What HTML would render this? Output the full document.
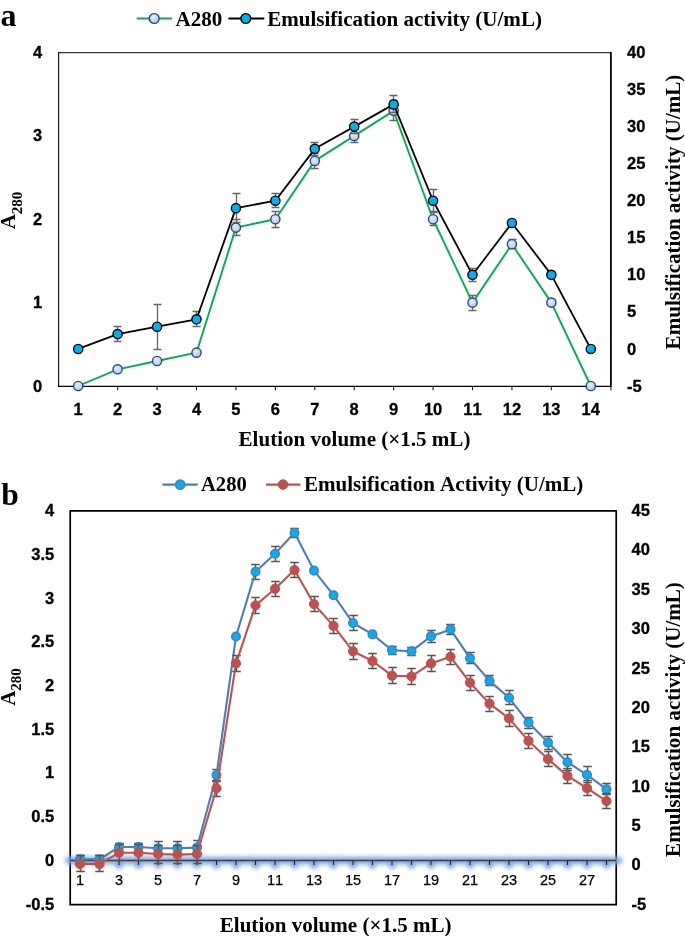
<!DOCTYPE html>
<html><head><meta charset="utf-8"><title>Elution profiles</title>
<style>html,body{margin:0;padding:0;background:#fff;width:685px;height:936px;overflow:hidden}svg{display:block;will-change:transform}text{font-variant-ligatures:none;font-kerning:none}</style>
</head><body>
<svg width="685" height="936" viewBox="0 0 685 936">
<defs>
<radialGradient id="gA" cx="0.4" cy="0.35" r="0.7"><stop offset="0" stop-color="#e4ecf7"/><stop offset="1" stop-color="#b4c8e4"/></radialGradient>
<filter id="glow" x="-0.05" y="-3" width="1.1" height="7" filterUnits="objectBoundingBox"><feGaussianBlur stdDeviation="2"/></filter>
</defs>
<rect width="685" height="936" fill="#fff"/>
<text x="0.5" y="26" style="font-family:'Liberation Serif', serif;font-weight:bold;font-size:32px">a</text>
<text x="1.2" y="504.5" style="font-family:'Liberation Serif', serif;font-weight:bold;font-size:31.5px">b</text>
<path d="M58.6 52.5H610.9" stroke="#333" stroke-width="1.25"/>
<path d="M58.6 51.9V387" stroke="#111" stroke-width="1.15"/>
<path d="M58 386.4H611" stroke="#000" stroke-width="1.25"/>
<path d="M610.9 51.9V387" stroke="#000" stroke-width="1.75"/>
<path d="M78.21 386.4v3.8M117.64 386.4v3.8M157.07 386.4v3.8M196.5 386.4v3.8M235.93 386.4v3.8M275.36 386.4v3.8M314.79 386.4v3.8M354.21 386.4v3.8M393.64 386.4v3.8M433.07 386.4v3.8M472.5 386.4v3.8M511.93 386.4v3.8M551.36 386.4v3.8M590.79 386.4v3.8M610.9 386.4v4.2" stroke="#1a1a1a" stroke-width="1.1"/>
<text x="42.3" y="391.6" text-anchor="end" style="font-family:'Liberation Sans', sans-serif;font-weight:bold;font-size:16.5px;stroke:#000;stroke-width:0.3px">0</text>
<text x="42.3" y="308.23" text-anchor="end" style="font-family:'Liberation Sans', sans-serif;font-weight:bold;font-size:16.5px;stroke:#000;stroke-width:0.3px">1</text>
<text x="42.3" y="224.85" text-anchor="end" style="font-family:'Liberation Sans', sans-serif;font-weight:bold;font-size:16.5px;stroke:#000;stroke-width:0.3px">2</text>
<text x="42.3" y="141.47" text-anchor="end" style="font-family:'Liberation Sans', sans-serif;font-weight:bold;font-size:16.5px;stroke:#000;stroke-width:0.3px">3</text>
<text x="42.3" y="58.1" text-anchor="end" style="font-family:'Liberation Sans', sans-serif;font-weight:bold;font-size:16.5px;stroke:#000;stroke-width:0.3px">4</text>
<text x="627" y="391.6" style="font-family:'Liberation Sans', sans-serif;font-weight:bold;font-size:16.5px;stroke:#000;stroke-width:0.3px">-5</text>
<text x="627" y="354.54" style="font-family:'Liberation Sans', sans-serif;font-weight:bold;font-size:16.5px;stroke:#000;stroke-width:0.3px">0</text>
<text x="627" y="317.49" style="font-family:'Liberation Sans', sans-serif;font-weight:bold;font-size:16.5px;stroke:#000;stroke-width:0.3px">5</text>
<text x="627" y="280.43" style="font-family:'Liberation Sans', sans-serif;font-weight:bold;font-size:16.5px;stroke:#000;stroke-width:0.3px">10</text>
<text x="627" y="243.38" style="font-family:'Liberation Sans', sans-serif;font-weight:bold;font-size:16.5px;stroke:#000;stroke-width:0.3px">15</text>
<text x="627" y="206.32" style="font-family:'Liberation Sans', sans-serif;font-weight:bold;font-size:16.5px;stroke:#000;stroke-width:0.3px">20</text>
<text x="627" y="169.27" style="font-family:'Liberation Sans', sans-serif;font-weight:bold;font-size:16.5px;stroke:#000;stroke-width:0.3px">25</text>
<text x="627" y="132.21" style="font-family:'Liberation Sans', sans-serif;font-weight:bold;font-size:16.5px;stroke:#000;stroke-width:0.3px">30</text>
<text x="627" y="95.16" style="font-family:'Liberation Sans', sans-serif;font-weight:bold;font-size:16.5px;stroke:#000;stroke-width:0.3px">35</text>
<text x="627" y="58.1" style="font-family:'Liberation Sans', sans-serif;font-weight:bold;font-size:16.5px;stroke:#000;stroke-width:0.3px">40</text>
<text x="78.21" y="414.9" text-anchor="middle" style="font-family:'Liberation Sans', sans-serif;font-weight:bold;font-size:16.5px;stroke:#000;stroke-width:0.3px">1</text>
<text x="117.64" y="414.9" text-anchor="middle" style="font-family:'Liberation Sans', sans-serif;font-weight:bold;font-size:16.5px;stroke:#000;stroke-width:0.3px">2</text>
<text x="157.07" y="414.9" text-anchor="middle" style="font-family:'Liberation Sans', sans-serif;font-weight:bold;font-size:16.5px;stroke:#000;stroke-width:0.3px">3</text>
<text x="196.5" y="414.9" text-anchor="middle" style="font-family:'Liberation Sans', sans-serif;font-weight:bold;font-size:16.5px;stroke:#000;stroke-width:0.3px">4</text>
<text x="235.93" y="414.9" text-anchor="middle" style="font-family:'Liberation Sans', sans-serif;font-weight:bold;font-size:16.5px;stroke:#000;stroke-width:0.3px">5</text>
<text x="275.36" y="414.9" text-anchor="middle" style="font-family:'Liberation Sans', sans-serif;font-weight:bold;font-size:16.5px;stroke:#000;stroke-width:0.3px">6</text>
<text x="314.79" y="414.9" text-anchor="middle" style="font-family:'Liberation Sans', sans-serif;font-weight:bold;font-size:16.5px;stroke:#000;stroke-width:0.3px">7</text>
<text x="354.21" y="414.9" text-anchor="middle" style="font-family:'Liberation Sans', sans-serif;font-weight:bold;font-size:16.5px;stroke:#000;stroke-width:0.3px">8</text>
<text x="393.64" y="414.9" text-anchor="middle" style="font-family:'Liberation Sans', sans-serif;font-weight:bold;font-size:16.5px;stroke:#000;stroke-width:0.3px">9</text>
<text x="433.07" y="414.9" text-anchor="middle" style="font-family:'Liberation Sans', sans-serif;font-weight:bold;font-size:16.5px;stroke:#000;stroke-width:0.3px">10</text>
<text x="472.5" y="414.9" text-anchor="middle" style="font-family:'Liberation Sans', sans-serif;font-weight:bold;font-size:16.5px;stroke:#000;stroke-width:0.3px">11</text>
<text x="511.93" y="414.9" text-anchor="middle" style="font-family:'Liberation Sans', sans-serif;font-weight:bold;font-size:16.5px;stroke:#000;stroke-width:0.3px">12</text>
<text x="551.36" y="414.9" text-anchor="middle" style="font-family:'Liberation Sans', sans-serif;font-weight:bold;font-size:16.5px;stroke:#000;stroke-width:0.3px">13</text>
<text x="590.79" y="414.9" text-anchor="middle" style="font-family:'Liberation Sans', sans-serif;font-weight:bold;font-size:16.5px;stroke:#000;stroke-width:0.3px">14</text>
<text x="354.5" y="446" text-anchor="middle" style="font-family:'Liberation Serif', serif;font-weight:bold;font-size:21.05px">Elution volume (×1.5 mL)</text>
<text transform="translate(15,210.5) rotate(-90)" text-anchor="middle" style="font-family:'Liberation Serif', serif;font-weight:bold;font-size:21.05px">A<tspan style="font-size:15px" dy="6.6">280</tspan></text>
<text transform="translate(680.3,212) rotate(-90)" text-anchor="middle" style="font-family:'Liberation Serif', serif;font-weight:bold;font-size:21.05px">Emulsification activity (U/mL)</text>
<line x1="136.7" y1="18.5" x2="172" y2="18.5" stroke="#00b050" stroke-width="2.2"/>
<circle cx="154.2" cy="18.5" r="4.9" fill="url(#gA)" stroke="#24497f" stroke-width="1.4"/>
<text x="175.5" y="26.2" style="font-family:'Liberation Serif', serif;font-weight:bold;font-size:21.05px">A280</text>
<line x1="228.4" y1="18.5" x2="264.3" y2="18.5" stroke="#000" stroke-width="2.2"/>
<circle cx="245.8" cy="18.5" r="4.9" fill="#00b0f0" stroke="#000" stroke-width="1.4"/>
<text x="267.2" y="26.2" style="font-family:'Liberation Serif', serif;font-weight:bold;font-size:21.05px">Emulsification activity (U/mL)</text>
<path d="M236.5 219.5V235.5M232.5 219.5h8M232.5 235.5h8" stroke="#666666" stroke-width="1.35" fill="none"/>
<path d="M275.5 211.5V227.5M271.5 211.5h8M271.5 227.5h8" stroke="#666666" stroke-width="1.35" fill="none"/>
<path d="M314.5 153.5V168.5M310.5 153.5h8M310.5 168.5h8" stroke="#666666" stroke-width="1.35" fill="none"/>
<path d="M354.5 129.5V142.5M350.5 129.5h8M350.5 142.5h8" stroke="#666666" stroke-width="1.35" fill="none"/>
<path d="M393.5 100.5V120.5M389.5 100.5h8M389.5 120.5h8" stroke="#666666" stroke-width="1.35" fill="none"/>
<path d="M433.5 212.5V225.5M429.5 212.5h8M429.5 225.5h8" stroke="#666666" stroke-width="1.35" fill="none"/>
<path d="M472.5 295.5V310.5M468.5 295.5h8M468.5 310.5h8" stroke="#666666" stroke-width="1.35" fill="none"/>
<path d="M512.5 239.5V248.5M508.5 239.5h8M508.5 248.5h8" stroke="#666666" stroke-width="1.35" fill="none"/>
<polyline points="78.21,386 117.64,369.32 157.07,360.99 196.5,352.65 235.93,227.59 275.36,219.25 314.79,160.89 354.21,135.88 393.64,110.86 433.07,219.25 472.5,302.62 511.93,244.26 551.36,302.62 590.79,386" fill="none" stroke="#00b050" stroke-width="1.9" stroke-linejoin="round"/>
<circle cx="78.21" cy="386" r="4.6" fill="url(#gA)" stroke="#24497f" stroke-width="1.4"/>
<circle cx="117.64" cy="369.32" r="4.6" fill="url(#gA)" stroke="#24497f" stroke-width="1.4"/>
<circle cx="157.07" cy="360.99" r="4.6" fill="url(#gA)" stroke="#24497f" stroke-width="1.4"/>
<circle cx="196.5" cy="352.65" r="4.6" fill="url(#gA)" stroke="#24497f" stroke-width="1.4"/>
<circle cx="235.93" cy="227.59" r="4.6" fill="url(#gA)" stroke="#24497f" stroke-width="1.4"/>
<circle cx="275.36" cy="219.25" r="4.6" fill="url(#gA)" stroke="#24497f" stroke-width="1.4"/>
<circle cx="314.79" cy="160.89" r="4.6" fill="url(#gA)" stroke="#24497f" stroke-width="1.4"/>
<circle cx="354.21" cy="135.88" r="4.6" fill="url(#gA)" stroke="#24497f" stroke-width="1.4"/>
<circle cx="393.64" cy="110.86" r="4.6" fill="url(#gA)" stroke="#24497f" stroke-width="1.4"/>
<circle cx="433.07" cy="219.25" r="4.6" fill="url(#gA)" stroke="#24497f" stroke-width="1.4"/>
<circle cx="472.5" cy="302.62" r="4.6" fill="url(#gA)" stroke="#24497f" stroke-width="1.4"/>
<circle cx="511.93" cy="244.26" r="4.6" fill="url(#gA)" stroke="#24497f" stroke-width="1.4"/>
<circle cx="551.36" cy="302.62" r="4.6" fill="url(#gA)" stroke="#24497f" stroke-width="1.4"/>
<circle cx="590.79" cy="386" r="4.6" fill="url(#gA)" stroke="#24497f" stroke-width="1.4"/>
<path d="M117.5 326.5V341.5M113.5 326.5h8M113.5 341.5h8" stroke="#666666" stroke-width="1.35" fill="none"/>
<path d="M157.5 304.5V349.5M153.5 304.5h8M153.5 349.5h8" stroke="#666666" stroke-width="1.35" fill="none"/>
<path d="M196.5 311.5V326.5M192.5 311.5h8M192.5 326.5h8" stroke="#666666" stroke-width="1.35" fill="none"/>
<path d="M236.5 193.5V222.5M232.5 193.5h8M232.5 222.5h8" stroke="#666666" stroke-width="1.35" fill="none"/>
<path d="M275.5 193.5V207.5M271.5 193.5h8M271.5 207.5h8" stroke="#666666" stroke-width="1.35" fill="none"/>
<path d="M314.5 142.5V155.5M310.5 142.5h8M310.5 155.5h8" stroke="#666666" stroke-width="1.35" fill="none"/>
<path d="M354.5 119.5V133.5M350.5 119.5h8M350.5 133.5h8" stroke="#666666" stroke-width="1.35" fill="none"/>
<path d="M393.5 95.5V112.5M389.5 95.5h8M389.5 112.5h8" stroke="#666666" stroke-width="1.35" fill="none"/>
<path d="M433.5 189.5V211.5M429.5 189.5h8M429.5 211.5h8" stroke="#666666" stroke-width="1.35" fill="none"/>
<path d="M472.5 268.5V281.5M468.5 268.5h8M468.5 281.5h8" stroke="#666666" stroke-width="1.35" fill="none"/>
<polyline points="78.21,348.94 117.64,334.12 157.07,326.71 196.5,319.3 235.93,208.13 275.36,200.72 314.79,148.84 354.21,126.61 393.64,104.38 433.07,200.72 472.5,274.83 511.93,222.96 551.36,274.83 590.79,348.94" fill="none" stroke="#000" stroke-width="1.8" stroke-linejoin="round"/>
<circle cx="78.21" cy="348.94" r="4.6" fill="#00b0f0" stroke="#000" stroke-width="1.4"/>
<circle cx="117.64" cy="334.12" r="4.6" fill="#00b0f0" stroke="#000" stroke-width="1.4"/>
<circle cx="157.07" cy="326.71" r="4.6" fill="#00b0f0" stroke="#000" stroke-width="1.4"/>
<circle cx="196.5" cy="319.3" r="4.6" fill="#00b0f0" stroke="#000" stroke-width="1.4"/>
<circle cx="235.93" cy="208.13" r="4.6" fill="#00b0f0" stroke="#000" stroke-width="1.4"/>
<circle cx="275.36" cy="200.72" r="4.6" fill="#00b0f0" stroke="#000" stroke-width="1.4"/>
<circle cx="314.79" cy="148.84" r="4.6" fill="#00b0f0" stroke="#000" stroke-width="1.4"/>
<circle cx="354.21" cy="126.61" r="4.6" fill="#00b0f0" stroke="#000" stroke-width="1.4"/>
<circle cx="393.64" cy="104.38" r="4.6" fill="#00b0f0" stroke="#000" stroke-width="1.4"/>
<circle cx="433.07" cy="200.72" r="4.6" fill="#00b0f0" stroke="#000" stroke-width="1.4"/>
<circle cx="472.5" cy="274.83" r="4.6" fill="#00b0f0" stroke="#000" stroke-width="1.4"/>
<circle cx="511.93" cy="222.96" r="4.6" fill="#00b0f0" stroke="#000" stroke-width="1.4"/>
<circle cx="551.36" cy="274.83" r="4.6" fill="#00b0f0" stroke="#000" stroke-width="1.4"/>
<circle cx="590.79" cy="348.94" r="4.6" fill="#00b0f0" stroke="#000" stroke-width="1.4"/>
<path d="M70.2 510.9H616.2V904.6H70.2Z" fill="none" stroke="#000" stroke-width="1.7"/>
<path d="M69 860.5H618.5M80 860.5v4.5M99.5 860.5v4.5M119 860.5v4.5M138.5 860.5v4.5M158 860.5v4.5M177.5 860.5v4.5M197 860.5v4.5M216.5 860.5v4.5M236 860.5v4.5M255.5 860.5v4.5M275 860.5v4.5M294.5 860.5v4.5M314 860.5v4.5M333.5 860.5v4.5M353 860.5v4.5M372.5 860.5v4.5M392 860.5v4.5M411.5 860.5v4.5M431 860.5v4.5M450.5 860.5v4.5M470 860.5v4.5M489.5 860.5v4.5M509 860.5v4.5M528.5 860.5v4.5M548 860.5v4.5M567.5 860.5v4.5M587 860.5v4.5M606.5 860.5v4.5" stroke="#7aa3db" stroke-width="7.5" stroke-linecap="round" fill="none" filter="url(#glow)" opacity="0.95"/>
<path d="M70 860.5H616" stroke="#404040" stroke-width="1.4"/>
<path d="M80 860.5v4.5M99.5 860.5v4.5M119 860.5v4.5M138.5 860.5v4.5M158 860.5v4.5M177.5 860.5v4.5M197 860.5v4.5M216.5 860.5v4.5M236 860.5v4.5M255.5 860.5v4.5M275 860.5v4.5M294.5 860.5v4.5M314 860.5v4.5M333.5 860.5v4.5M353 860.5v4.5M372.5 860.5v4.5M392 860.5v4.5M411.5 860.5v4.5M431 860.5v4.5M450.5 860.5v4.5M470 860.5v4.5M489.5 860.5v4.5M509 860.5v4.5M528.5 860.5v4.5M548 860.5v4.5M567.5 860.5v4.5M587 860.5v4.5M606.5 860.5v4.5" stroke="#202020" stroke-width="1.1"/>
<text x="54.2" y="516.1" text-anchor="end" style="font-family:'Liberation Sans', sans-serif;font-weight:bold;font-size:16.5px;stroke:#000;stroke-width:0.3px">4</text>
<text x="54.2" y="559.82" text-anchor="end" style="font-family:'Liberation Sans', sans-serif;font-weight:bold;font-size:16.5px;stroke:#000;stroke-width:0.3px">3.5</text>
<text x="54.2" y="603.54" text-anchor="end" style="font-family:'Liberation Sans', sans-serif;font-weight:bold;font-size:16.5px;stroke:#000;stroke-width:0.3px">3</text>
<text x="54.2" y="647.27" text-anchor="end" style="font-family:'Liberation Sans', sans-serif;font-weight:bold;font-size:16.5px;stroke:#000;stroke-width:0.3px">2.5</text>
<text x="54.2" y="690.99" text-anchor="end" style="font-family:'Liberation Sans', sans-serif;font-weight:bold;font-size:16.5px;stroke:#000;stroke-width:0.3px">2</text>
<text x="54.2" y="734.71" text-anchor="end" style="font-family:'Liberation Sans', sans-serif;font-weight:bold;font-size:16.5px;stroke:#000;stroke-width:0.3px">1.5</text>
<text x="54.2" y="778.43" text-anchor="end" style="font-family:'Liberation Sans', sans-serif;font-weight:bold;font-size:16.5px;stroke:#000;stroke-width:0.3px">1</text>
<text x="54.2" y="822.16" text-anchor="end" style="font-family:'Liberation Sans', sans-serif;font-weight:bold;font-size:16.5px;stroke:#000;stroke-width:0.3px">0.5</text>
<text x="54.2" y="865.88" text-anchor="end" style="font-family:'Liberation Sans', sans-serif;font-weight:bold;font-size:16.5px;stroke:#000;stroke-width:0.3px">0</text>
<text x="54.2" y="909.6" text-anchor="end" style="font-family:'Liberation Sans', sans-serif;font-weight:bold;font-size:16.5px;stroke:#000;stroke-width:0.3px">-0.5</text>
<text x="631.6" y="909.6" style="font-family:'Liberation Sans', sans-serif;font-weight:bold;font-size:16.5px;stroke:#000;stroke-width:0.3px">-5</text>
<text x="631.6" y="870.25" style="font-family:'Liberation Sans', sans-serif;font-weight:bold;font-size:16.5px;stroke:#000;stroke-width:0.3px">0</text>
<text x="631.6" y="830.9" style="font-family:'Liberation Sans', sans-serif;font-weight:bold;font-size:16.5px;stroke:#000;stroke-width:0.3px">5</text>
<text x="631.6" y="791.55" style="font-family:'Liberation Sans', sans-serif;font-weight:bold;font-size:16.5px;stroke:#000;stroke-width:0.3px">10</text>
<text x="631.6" y="752.2" style="font-family:'Liberation Sans', sans-serif;font-weight:bold;font-size:16.5px;stroke:#000;stroke-width:0.3px">15</text>
<text x="631.6" y="712.85" style="font-family:'Liberation Sans', sans-serif;font-weight:bold;font-size:16.5px;stroke:#000;stroke-width:0.3px">20</text>
<text x="631.6" y="673.5" style="font-family:'Liberation Sans', sans-serif;font-weight:bold;font-size:16.5px;stroke:#000;stroke-width:0.3px">25</text>
<text x="631.6" y="634.15" style="font-family:'Liberation Sans', sans-serif;font-weight:bold;font-size:16.5px;stroke:#000;stroke-width:0.3px">30</text>
<text x="631.6" y="594.8" style="font-family:'Liberation Sans', sans-serif;font-weight:bold;font-size:16.5px;stroke:#000;stroke-width:0.3px">35</text>
<text x="631.6" y="555.45" style="font-family:'Liberation Sans', sans-serif;font-weight:bold;font-size:16.5px;stroke:#000;stroke-width:0.3px">40</text>
<text x="631.6" y="516.1" style="font-family:'Liberation Sans', sans-serif;font-weight:bold;font-size:16.5px;stroke:#000;stroke-width:0.3px">45</text>
<text x="80" y="885.2" text-anchor="middle" style="font-family:'Liberation Sans', sans-serif;font-size:14.5px;stroke:#000;stroke-width:0.25px">1</text>
<text x="119" y="885.2" text-anchor="middle" style="font-family:'Liberation Sans', sans-serif;font-size:14.5px;stroke:#000;stroke-width:0.25px">3</text>
<text x="158" y="885.2" text-anchor="middle" style="font-family:'Liberation Sans', sans-serif;font-size:14.5px;stroke:#000;stroke-width:0.25px">5</text>
<text x="197" y="885.2" text-anchor="middle" style="font-family:'Liberation Sans', sans-serif;font-size:14.5px;stroke:#000;stroke-width:0.25px">7</text>
<text x="236" y="885.2" text-anchor="middle" style="font-family:'Liberation Sans', sans-serif;font-size:14.5px;stroke:#000;stroke-width:0.25px">9</text>
<text x="275" y="885.2" text-anchor="middle" style="font-family:'Liberation Sans', sans-serif;font-size:14.5px;stroke:#000;stroke-width:0.25px">11</text>
<text x="314" y="885.2" text-anchor="middle" style="font-family:'Liberation Sans', sans-serif;font-size:14.5px;stroke:#000;stroke-width:0.25px">13</text>
<text x="353" y="885.2" text-anchor="middle" style="font-family:'Liberation Sans', sans-serif;font-size:14.5px;stroke:#000;stroke-width:0.25px">15</text>
<text x="392" y="885.2" text-anchor="middle" style="font-family:'Liberation Sans', sans-serif;font-size:14.5px;stroke:#000;stroke-width:0.25px">17</text>
<text x="431" y="885.2" text-anchor="middle" style="font-family:'Liberation Sans', sans-serif;font-size:14.5px;stroke:#000;stroke-width:0.25px">19</text>
<text x="470" y="885.2" text-anchor="middle" style="font-family:'Liberation Sans', sans-serif;font-size:14.5px;stroke:#000;stroke-width:0.25px">21</text>
<text x="509" y="885.2" text-anchor="middle" style="font-family:'Liberation Sans', sans-serif;font-size:14.5px;stroke:#000;stroke-width:0.25px">23</text>
<text x="548" y="885.2" text-anchor="middle" style="font-family:'Liberation Sans', sans-serif;font-size:14.5px;stroke:#000;stroke-width:0.25px">25</text>
<text x="587" y="885.2" text-anchor="middle" style="font-family:'Liberation Sans', sans-serif;font-size:14.5px;stroke:#000;stroke-width:0.25px">27</text>
<text x="335.7" y="931.6" text-anchor="middle" style="font-family:'Liberation Serif', serif;font-weight:bold;font-size:21.05px">Elution volume (×1.5 mL)</text>
<text transform="translate(14.5,687) rotate(-90)" text-anchor="middle" style="font-family:'Liberation Serif', serif;font-weight:bold;font-size:21.05px">A<tspan style="font-size:15px" dy="6.6">280</tspan></text>
<text transform="translate(680,719.5) rotate(-90)" text-anchor="middle" style="font-family:'Liberation Serif', serif;font-weight:bold;font-size:21.05px">Emulsification activity (U/mL)</text>
<line x1="162.4" y1="484.6" x2="197.8" y2="484.6" stroke="#4a7ebb" stroke-width="2.1"/>
<circle cx="180.2" cy="484.6" r="4.6" fill="#00b0f0" stroke="#4a7ebb" stroke-width="1.5"/>
<text x="201" y="491.2" style="font-family:'Liberation Serif', serif;font-weight:bold;font-size:21.05px;font-size:20.6px">A280</text>
<line x1="266" y1="484.6" x2="300.4" y2="484.6" stroke="#c0504d" stroke-width="2.1"/>
<circle cx="283" cy="484.6" r="4.8" fill="#c0504d" stroke="#c0504d" stroke-width="1"/>
<text x="303.9" y="491.2" style="font-family:'Liberation Serif', serif;font-weight:bold;font-size:21.05px">Emulsification Activity (U/mL)</text>
<path d="M80.5 855.5V863.5M76.2 855.5h8.6M76.2 863.5h8.6" stroke="#555555" stroke-width="1.5" fill="none"/>
<path d="M99.5 855.5V863.5M95.2 855.5h8.6M95.2 863.5h8.6" stroke="#555555" stroke-width="1.5" fill="none"/>
<path d="M119.5 843.5V851.5M115.2 843.5h8.6M115.2 851.5h8.6" stroke="#555555" stroke-width="1.5" fill="none"/>
<path d="M138.5 843.5V851.5M134.2 843.5h8.6M134.2 851.5h8.6" stroke="#555555" stroke-width="1.5" fill="none"/>
<path d="M158.5 841.5V855.5M154.2 841.5h8.6M154.2 855.5h8.6" stroke="#555555" stroke-width="1.5" fill="none"/>
<path d="M177.5 841.5V855.5M173.2 841.5h8.6M173.2 855.5h8.6" stroke="#555555" stroke-width="1.5" fill="none"/>
<path d="M197.5 840.5V854.5M193.2 840.5h8.6M193.2 854.5h8.6" stroke="#555555" stroke-width="1.5" fill="none"/>
<path d="M216.5 769.5V781.5M212.2 769.5h8.6M212.2 781.5h8.6" stroke="#555555" stroke-width="1.5" fill="none"/>
<path d="M255.5 564.5V579.5M251.2 564.5h8.6M251.2 579.5h8.6" stroke="#555555" stroke-width="1.5" fill="none"/>
<path d="M275.5 546.5V561.5M271.2 546.5h8.6M271.2 561.5h8.6" stroke="#555555" stroke-width="1.5" fill="none"/>
<path d="M294.5 528.5V537.5M290.2 528.5h8.6M290.2 537.5h8.6" stroke="#555555" stroke-width="1.5" fill="none"/>
<path d="M353.5 615.5V630.5M349.2 615.5h8.6M349.2 630.5h8.6" stroke="#555555" stroke-width="1.5" fill="none"/>
<path d="M392.5 646.5V654.5M388.2 646.5h8.6M388.2 654.5h8.6" stroke="#555555" stroke-width="1.5" fill="none"/>
<path d="M411.5 647.5V655.5M407.2 647.5h8.6M407.2 655.5h8.6" stroke="#555555" stroke-width="1.5" fill="none"/>
<path d="M431.5 630.5V642.5M427.2 630.5h8.6M427.2 642.5h8.6" stroke="#555555" stroke-width="1.5" fill="none"/>
<path d="M450.5 624.5V634.5M446.2 624.5h8.6M446.2 634.5h8.6" stroke="#555555" stroke-width="1.5" fill="none"/>
<path d="M470.5 652.5V663.5M466.2 652.5h8.6M466.2 663.5h8.6" stroke="#555555" stroke-width="1.5" fill="none"/>
<path d="M489.5 675.5V685.5M485.2 675.5h8.6M485.2 685.5h8.6" stroke="#555555" stroke-width="1.5" fill="none"/>
<path d="M509.5 690.5V704.5M505.2 690.5h8.6M505.2 704.5h8.6" stroke="#555555" stroke-width="1.5" fill="none"/>
<path d="M528.5 717.5V728.5M524.2 717.5h8.6M524.2 728.5h8.6" stroke="#555555" stroke-width="1.5" fill="none"/>
<path d="M548.5 736.5V749.5M544.2 736.5h8.6M544.2 749.5h8.6" stroke="#555555" stroke-width="1.5" fill="none"/>
<path d="M567.5 754.5V770.5M563.2 754.5h8.6M563.2 770.5h8.6" stroke="#555555" stroke-width="1.5" fill="none"/>
<path d="M587.5 766.5V782.5M583.2 766.5h8.6M583.2 782.5h8.6" stroke="#555555" stroke-width="1.5" fill="none"/>
<path d="M606.5 783.5V794.5M602.2 783.5h8.6M602.2 794.5h8.6" stroke="#555555" stroke-width="1.5" fill="none"/>
<polyline points="80,859.3 99.5,859.3 119,847 138.5,847 158,848.2 177.5,848.2 197,847.6 216.5,775.1 236,636.5 255.5,571.7 275,553.8 294.5,532.8 314,570.6 333.5,595.2 353,623 372.5,634.4 392,650.3 411.5,651.2 431,636.4 450.5,629.4 470,658.2 489.5,680.9 509,697.8 528.5,722.6 548,742.6 567.5,762.2 587,774.8 606.5,789.2" fill="none" stroke="#4a7ebb" stroke-width="2.1" stroke-linejoin="round"/>
<circle cx="80" cy="859.3" r="4.3" fill="#00b0f0" stroke="#4a7ebb" stroke-width="1.5"/>
<circle cx="99.5" cy="859.3" r="4.3" fill="#00b0f0" stroke="#4a7ebb" stroke-width="1.5"/>
<circle cx="119" cy="847" r="4.3" fill="#00b0f0" stroke="#4a7ebb" stroke-width="1.5"/>
<circle cx="138.5" cy="847" r="4.3" fill="#00b0f0" stroke="#4a7ebb" stroke-width="1.5"/>
<circle cx="158" cy="848.2" r="4.3" fill="#00b0f0" stroke="#4a7ebb" stroke-width="1.5"/>
<circle cx="177.5" cy="848.2" r="4.3" fill="#00b0f0" stroke="#4a7ebb" stroke-width="1.5"/>
<circle cx="197" cy="847.6" r="4.3" fill="#00b0f0" stroke="#4a7ebb" stroke-width="1.5"/>
<circle cx="216.5" cy="775.1" r="4.3" fill="#00b0f0" stroke="#4a7ebb" stroke-width="1.5"/>
<circle cx="236" cy="636.5" r="4.3" fill="#00b0f0" stroke="#4a7ebb" stroke-width="1.5"/>
<circle cx="255.5" cy="571.7" r="4.3" fill="#00b0f0" stroke="#4a7ebb" stroke-width="1.5"/>
<circle cx="275" cy="553.8" r="4.3" fill="#00b0f0" stroke="#4a7ebb" stroke-width="1.5"/>
<circle cx="294.5" cy="532.8" r="4.3" fill="#00b0f0" stroke="#4a7ebb" stroke-width="1.5"/>
<circle cx="314" cy="570.6" r="4.3" fill="#00b0f0" stroke="#4a7ebb" stroke-width="1.5"/>
<circle cx="333.5" cy="595.2" r="4.3" fill="#00b0f0" stroke="#4a7ebb" stroke-width="1.5"/>
<circle cx="353" cy="623" r="4.3" fill="#00b0f0" stroke="#4a7ebb" stroke-width="1.5"/>
<circle cx="372.5" cy="634.4" r="4.3" fill="#00b0f0" stroke="#4a7ebb" stroke-width="1.5"/>
<circle cx="392" cy="650.3" r="4.3" fill="#00b0f0" stroke="#4a7ebb" stroke-width="1.5"/>
<circle cx="411.5" cy="651.2" r="4.3" fill="#00b0f0" stroke="#4a7ebb" stroke-width="1.5"/>
<circle cx="431" cy="636.4" r="4.3" fill="#00b0f0" stroke="#4a7ebb" stroke-width="1.5"/>
<circle cx="450.5" cy="629.4" r="4.3" fill="#00b0f0" stroke="#4a7ebb" stroke-width="1.5"/>
<circle cx="470" cy="658.2" r="4.3" fill="#00b0f0" stroke="#4a7ebb" stroke-width="1.5"/>
<circle cx="489.5" cy="680.9" r="4.3" fill="#00b0f0" stroke="#4a7ebb" stroke-width="1.5"/>
<circle cx="509" cy="697.8" r="4.3" fill="#00b0f0" stroke="#4a7ebb" stroke-width="1.5"/>
<circle cx="528.5" cy="722.6" r="4.3" fill="#00b0f0" stroke="#4a7ebb" stroke-width="1.5"/>
<circle cx="548" cy="742.6" r="4.3" fill="#00b0f0" stroke="#4a7ebb" stroke-width="1.5"/>
<circle cx="567.5" cy="762.2" r="4.3" fill="#00b0f0" stroke="#4a7ebb" stroke-width="1.5"/>
<circle cx="587" cy="774.8" r="4.3" fill="#00b0f0" stroke="#4a7ebb" stroke-width="1.5"/>
<circle cx="606.5" cy="789.2" r="4.3" fill="#00b0f0" stroke="#4a7ebb" stroke-width="1.5"/>
<path d="M80.5 855.5V871.5M76.2 855.5h8.6M76.2 871.5h8.6" stroke="#555555" stroke-width="1.5" fill="none"/>
<path d="M99.5 855.5V871.5M95.2 855.5h8.6M95.2 871.5h8.6" stroke="#555555" stroke-width="1.5" fill="none"/>
<path d="M119.5 844.5V860.5M115.2 844.5h8.6M115.2 860.5h8.6" stroke="#555555" stroke-width="1.5" fill="none"/>
<path d="M138.5 844.5V860.5M134.2 844.5h8.6M134.2 860.5h8.6" stroke="#555555" stroke-width="1.5" fill="none"/>
<path d="M158.5 845.5V863.5M154.2 845.5h8.6M154.2 863.5h8.6" stroke="#555555" stroke-width="1.5" fill="none"/>
<path d="M177.5 845.5V863.5M173.2 845.5h8.6M173.2 863.5h8.6" stroke="#555555" stroke-width="1.5" fill="none"/>
<path d="M197.5 845.5V863.5M193.2 845.5h8.6M193.2 863.5h8.6" stroke="#555555" stroke-width="1.5" fill="none"/>
<path d="M216.5 780.5V796.5M212.2 780.5h8.6M212.2 796.5h8.6" stroke="#555555" stroke-width="1.5" fill="none"/>
<path d="M236.5 655.5V671.5M232.2 655.5h8.6M232.2 671.5h8.6" stroke="#555555" stroke-width="1.5" fill="none"/>
<path d="M255.5 597.5V613.5M251.2 597.5h8.6M251.2 613.5h8.6" stroke="#555555" stroke-width="1.5" fill="none"/>
<path d="M275.5 581.5V596.5M271.2 581.5h8.6M271.2 596.5h8.6" stroke="#555555" stroke-width="1.5" fill="none"/>
<path d="M294.5 562.5V577.5M290.2 562.5h8.6M290.2 577.5h8.6" stroke="#555555" stroke-width="1.5" fill="none"/>
<path d="M314.5 596.5V611.5M310.2 596.5h8.6M310.2 611.5h8.6" stroke="#555555" stroke-width="1.5" fill="none"/>
<path d="M333.5 618.5V633.5M329.2 618.5h8.6M329.2 633.5h8.6" stroke="#555555" stroke-width="1.5" fill="none"/>
<path d="M353.5 643.5V659.5M349.2 643.5h8.6M349.2 659.5h8.6" stroke="#555555" stroke-width="1.5" fill="none"/>
<path d="M372.5 653.5V668.5M368.2 653.5h8.6M368.2 668.5h8.6" stroke="#555555" stroke-width="1.5" fill="none"/>
<path d="M392.5 667.5V683.5M388.2 667.5h8.6M388.2 683.5h8.6" stroke="#555555" stroke-width="1.5" fill="none"/>
<path d="M411.5 668.5V684.5M407.2 668.5h8.6M407.2 684.5h8.6" stroke="#555555" stroke-width="1.5" fill="none"/>
<path d="M431.5 655.5V671.5M427.2 655.5h8.6M427.2 671.5h8.6" stroke="#555555" stroke-width="1.5" fill="none"/>
<path d="M450.5 649.5V664.5M446.2 649.5h8.6M446.2 664.5h8.6" stroke="#555555" stroke-width="1.5" fill="none"/>
<path d="M470.5 675.5V690.5M466.2 675.5h8.6M466.2 690.5h8.6" stroke="#555555" stroke-width="1.5" fill="none"/>
<path d="M489.5 696.5V711.5M485.2 696.5h8.6M485.2 711.5h8.6" stroke="#555555" stroke-width="1.5" fill="none"/>
<path d="M509.5 710.5V726.5M505.2 710.5h8.6M505.2 726.5h8.6" stroke="#555555" stroke-width="1.5" fill="none"/>
<path d="M528.5 733.5V748.5M524.2 733.5h8.6M524.2 748.5h8.6" stroke="#555555" stroke-width="1.5" fill="none"/>
<path d="M548.5 751.5V766.5M544.2 751.5h8.6M544.2 766.5h8.6" stroke="#555555" stroke-width="1.5" fill="none"/>
<path d="M567.5 768.5V783.5M563.2 768.5h8.6M563.2 783.5h8.6" stroke="#555555" stroke-width="1.5" fill="none"/>
<path d="M587.5 780.5V795.5M583.2 780.5h8.6M583.2 795.5h8.6" stroke="#555555" stroke-width="1.5" fill="none"/>
<path d="M606.5 793.5V808.5M602.2 793.5h8.6M602.2 808.5h8.6" stroke="#555555" stroke-width="1.5" fill="none"/>
<polyline points="80,863.9 99.5,863.9 119,852.8 138.5,852.8 158,854 177.5,854.6 197,854 216.5,788.3 236,663.3 255.5,605.4 275,588.8 294.5,570.1 314,604.1 333.5,625.9 353,651.3 372.5,661 392,675.7 411.5,676.4 431,663.4 450.5,656.8 470,682.7 489.5,703.7 509,718.4 528.5,740.9 548,759.1 567.5,775.9 587,788.2 606.5,801.1" fill="none" stroke="#c0504d" stroke-width="2.1" stroke-linejoin="round"/>
<circle cx="80" cy="863.9" r="4.6" fill="#c0504d" stroke="#c0504d" stroke-width="1"/>
<circle cx="99.5" cy="863.9" r="4.6" fill="#c0504d" stroke="#c0504d" stroke-width="1"/>
<circle cx="119" cy="852.8" r="4.6" fill="#c0504d" stroke="#c0504d" stroke-width="1"/>
<circle cx="138.5" cy="852.8" r="4.6" fill="#c0504d" stroke="#c0504d" stroke-width="1"/>
<circle cx="158" cy="854" r="4.6" fill="#c0504d" stroke="#c0504d" stroke-width="1"/>
<circle cx="177.5" cy="854.6" r="4.6" fill="#c0504d" stroke="#c0504d" stroke-width="1"/>
<circle cx="197" cy="854" r="4.6" fill="#c0504d" stroke="#c0504d" stroke-width="1"/>
<circle cx="216.5" cy="788.3" r="4.6" fill="#c0504d" stroke="#c0504d" stroke-width="1"/>
<circle cx="236" cy="663.3" r="4.6" fill="#c0504d" stroke="#c0504d" stroke-width="1"/>
<circle cx="255.5" cy="605.4" r="4.6" fill="#c0504d" stroke="#c0504d" stroke-width="1"/>
<circle cx="275" cy="588.8" r="4.6" fill="#c0504d" stroke="#c0504d" stroke-width="1"/>
<circle cx="294.5" cy="570.1" r="4.6" fill="#c0504d" stroke="#c0504d" stroke-width="1"/>
<circle cx="314" cy="604.1" r="4.6" fill="#c0504d" stroke="#c0504d" stroke-width="1"/>
<circle cx="333.5" cy="625.9" r="4.6" fill="#c0504d" stroke="#c0504d" stroke-width="1"/>
<circle cx="353" cy="651.3" r="4.6" fill="#c0504d" stroke="#c0504d" stroke-width="1"/>
<circle cx="372.5" cy="661" r="4.6" fill="#c0504d" stroke="#c0504d" stroke-width="1"/>
<circle cx="392" cy="675.7" r="4.6" fill="#c0504d" stroke="#c0504d" stroke-width="1"/>
<circle cx="411.5" cy="676.4" r="4.6" fill="#c0504d" stroke="#c0504d" stroke-width="1"/>
<circle cx="431" cy="663.4" r="4.6" fill="#c0504d" stroke="#c0504d" stroke-width="1"/>
<circle cx="450.5" cy="656.8" r="4.6" fill="#c0504d" stroke="#c0504d" stroke-width="1"/>
<circle cx="470" cy="682.7" r="4.6" fill="#c0504d" stroke="#c0504d" stroke-width="1"/>
<circle cx="489.5" cy="703.7" r="4.6" fill="#c0504d" stroke="#c0504d" stroke-width="1"/>
<circle cx="509" cy="718.4" r="4.6" fill="#c0504d" stroke="#c0504d" stroke-width="1"/>
<circle cx="528.5" cy="740.9" r="4.6" fill="#c0504d" stroke="#c0504d" stroke-width="1"/>
<circle cx="548" cy="759.1" r="4.6" fill="#c0504d" stroke="#c0504d" stroke-width="1"/>
<circle cx="567.5" cy="775.9" r="4.6" fill="#c0504d" stroke="#c0504d" stroke-width="1"/>
<circle cx="587" cy="788.2" r="4.6" fill="#c0504d" stroke="#c0504d" stroke-width="1"/>
<circle cx="606.5" cy="801.1" r="4.6" fill="#c0504d" stroke="#c0504d" stroke-width="1"/>
</svg>
</body></html>
